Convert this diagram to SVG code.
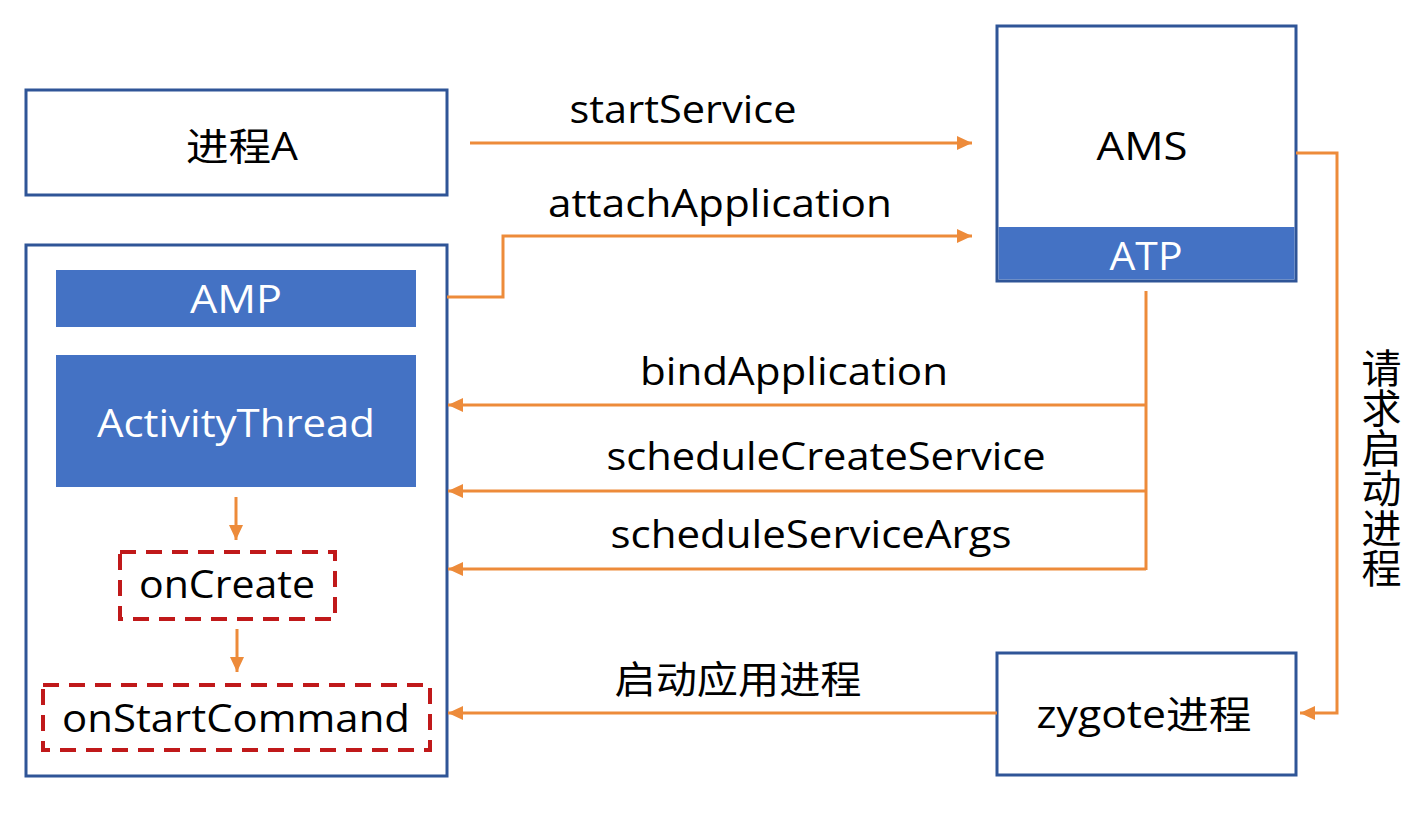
<svg xmlns="http://www.w3.org/2000/svg" width="1414" height="821" viewBox="0 0 1414 821">
<style>
.box{fill:#ffffff;stroke:#2f5597;stroke-width:3}
.bar{fill:#4472c4;stroke:none}
.dash{fill:none;stroke:#c0191a;stroke-width:4;stroke-dasharray:16 10}
.ln{fill:none;stroke:#ed8b3a;stroke-width:3}
text{font-family:"Open Sans","Noto Sans CJK SC",sans-serif;font-size:38px;fill:#000000;text-anchor:middle}
.w{fill:#ffffff}
.v{font-size:40px;writing-mode:vertical-rl}
</style>
<defs>
<marker id="ah" markerUnits="userSpaceOnUse" markerWidth="16" markerHeight="14" refX="15" refY="7" orient="auto">
<path d="M0,0 L15,7 L0,14 Z" fill="#ed8b3a"/>
</marker>
</defs>
<rect width="1414" height="821" fill="#ffffff"/>
<g id="processA">
<rect class="box" x="26" y="90" width="421" height="105"/>
<text x="242" y="160" textLength="112" lengthAdjust="spacingAndGlyphs">进程A</text>
</g>
<g id="appProcess">
<rect class="box" x="26" y="245" width="421" height="531"/>
</g>
<g id="AMP">
<rect class="bar" x="56" y="270" width="360" height="57"/>
<text class="w" x="236" y="313" textLength="92" lengthAdjust="spacingAndGlyphs">AMP</text>
</g>
<g id="ActivityThread">
<rect class="bar" x="56" y="355" width="360" height="132"/>
<text class="w" x="236" y="437" textLength="278" lengthAdjust="spacingAndGlyphs">ActivityThread</text>
</g>
<g id="onCreate">
<rect class="dash" x="120" y="552" width="215" height="67"/>
<text x="227" y="598" textLength="176" lengthAdjust="spacingAndGlyphs">onCreate</text>
</g>
<g id="onStartCommand">
<rect class="dash" x="43" y="685" width="387" height="65"/>
<text x="236" y="732" textLength="348" lengthAdjust="spacingAndGlyphs">onStartCommand</text>
</g>
<g id="AMS">
<rect class="box" x="997" y="26" width="299" height="255"/>
<rect class="bar" x="998.5" y="227" width="296" height="52.5"/>
<text x="1142" y="160" textLength="91" lengthAdjust="spacingAndGlyphs">AMS</text>
<text class="w" x="1146" y="270" textLength="73" lengthAdjust="spacingAndGlyphs">ATP</text>
</g>
<g id="zygote">
<rect class="box" x="997" y="653" width="299" height="122"/>
<text x="1144" y="728" textLength="215" lengthAdjust="spacingAndGlyphs">zygote进程</text>
</g>
<g id="connectors">
<path class="ln" d="M470,143 H972" marker-end="url(#ah)"/>
<path class="ln" d="M447,297 H503 V236 H972" marker-end="url(#ah)"/>
<path class="ln" d="M1146,291 V570"/>
<path class="ln" d="M1146,405 H448" marker-end="url(#ah)"/>
<path class="ln" d="M1146,491 H448" marker-end="url(#ah)"/>
<path class="ln" d="M1146,569 H448" marker-end="url(#ah)"/>
<path class="ln" d="M1296,153 H1337 V713 H1300" marker-end="url(#ah)"/>
<path class="ln" d="M997,713 H448" marker-end="url(#ah)"/>
<path class="ln" d="M236,497 V540" marker-end="url(#ah)"/>
<path class="ln" d="M237,629 V672" marker-end="url(#ah)"/>
</g>
<g id="labels">
<text x="683" y="123" textLength="227" lengthAdjust="spacingAndGlyphs">startService</text>
<text x="720" y="217" textLength="344" lengthAdjust="spacingAndGlyphs">attachApplication</text>
<text x="794" y="385" textLength="308" lengthAdjust="spacingAndGlyphs">bindApplication</text>
<text x="826" y="470" textLength="439" lengthAdjust="spacingAndGlyphs">scheduleCreateService</text>
<text x="811" y="548" textLength="401" lengthAdjust="spacingAndGlyphs">scheduleServiceArgs</text>
<text x="738" y="693" textLength="247" lengthAdjust="spacingAndGlyphs">启动应用进程</text>
<text class="v" x="1380" y="468">请求启动进程</text>
</g>
</svg>
